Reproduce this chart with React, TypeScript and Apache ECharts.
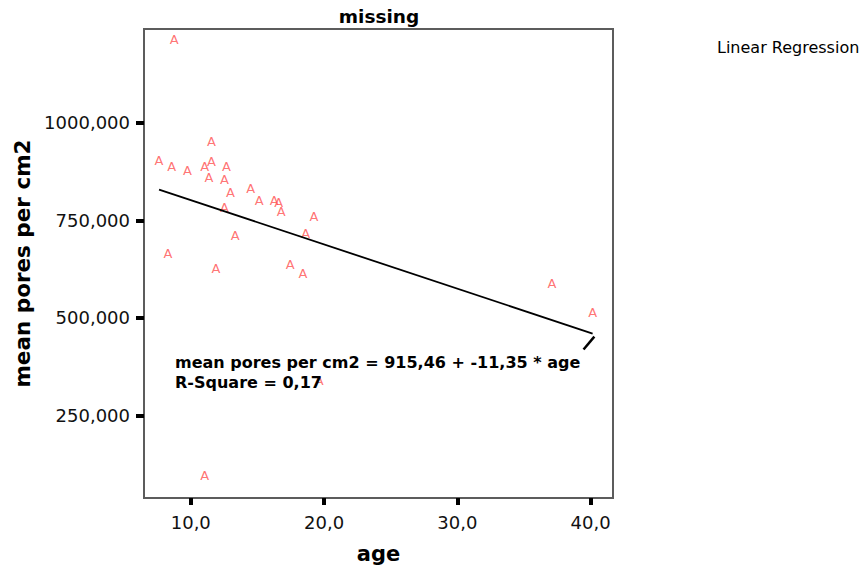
import React, { useEffect, useRef } from "react";
import * as echarts from "echarts";

// age (x) and mean pores per cm2 (y) for each case
const ageValues = [
  8.75, 11.56, 7.62, 8.57, 9.75, 11.05, 11.56, 12.68, 11.37, 12.53, 12.98, 14.49,
  15.13, 16.26, 16.59, 16.78, 12.53, 19.24, 18.62, 13.33, 8.29, 11.88, 17.46, 18.41,
  37.1, 40.15, 19.64, 11.05,
];
const poresValues = [
  1214, 953, 904, 889, 878, 889, 900, 889, 859, 855, 822, 833,
  802, 801, 795, 773, 784, 759, 716, 711, 664, 627, 637, 615,
  587, 515, 340, 96,
];

// linear regression fit
const intercept = 915.46;
const slope = -11.35;
const rSquare = 0.17;

// small rendering artefact at the end of the fit line
const hookAge = [40.28, 39.47];
const hookPores = [452, 419];

const xTicks = [10, 20, 30, 40];
const yTicks = [250, 500, 750, 1000];
const xRange = [6.49, 41.68];
const yRange = [38, 1241];

const FONT = "DejaVu Sans";

export default function App() {
  const ref = useRef<HTMLDivElement>(null);

  useEffect(() => {
    if (!ref.current) return;
    const chart = echarts.init(ref.current, undefined, { renderer: "svg" });

    const points = ageValues.map((a, i) => [a, poresValues[i]]);
    const xMin = Math.min(...ageValues);
    const xMax = Math.max(...ageValues);
    const fit = [
      [xMin, intercept + slope * xMin],
      [xMax, intercept + slope * xMax],
    ];
    const hook = hookAge.map((a, i) => [a, hookPores[i]]);

    const fmtNum = (v: number, d: number) => v.toFixed(d).replace(".", ",");

    chart.setOption({
      animation: false,
      textStyle: { fontFamily: FONT },
      grid: {
        left: 144,
        top: 29,
        width: 469,
        height: 469,
        show: true,
        borderColor: "#5c5c5c",
        borderWidth: 2,
        backgroundColor: "#ffffff",
      },
      xAxis: {
        type: "value",
        min: xRange[0],
        max: xRange[1],
        name: "age",
        nameLocation: "middle",
        nameGap: 45,
        nameTextStyle: { fontFamily: FONT, fontSize: 21, fontWeight: "bold", color: "#000" },
        axisLine: { show: false },
        splitLine: { show: false },
        axisTick: {
          show: true,
          customValues: xTicks,
          length: 7,
          lineStyle: { color: "#000", width: 4 },
        },
        axisLabel: {
          customValues: xTicks,
          margin: 15,
          fontFamily: FONT,
          fontSize: 18,
          color: "#111",
          formatter: (v: number) => fmtNum(v, 1),
        },
      },
      yAxis: {
        type: "value",
        min: yRange[0],
        max: yRange[1],
        name: "mean pores per cm2",
        nameLocation: "middle",
        nameGap: 109,
        nameTextStyle: { fontFamily: FONT, fontSize: 21.5, fontWeight: "bold", color: "#000" },
        axisLine: { show: false },
        splitLine: { show: false },
        axisTick: {
          show: true,
          customValues: yTicks,
          length: 8,
          lineStyle: { color: "#000", width: 4 },
        },
        axisLabel: {
          customValues: yTicks,
          margin: 14,
          fontFamily: FONT,
          fontSize: 18,
          color: "#111",
          formatter: (v: number) => fmtNum(v, 3),
        },
      },
      series: [
        {
          type: "line",
          data: fit,
          symbol: "none",
          lineStyle: { color: "#000", width: 1.8 },
          z: 3,
        },
        {
          type: "line",
          data: hook,
          symbol: "none",
          lineStyle: { color: "#000", width: 2.5 },
          z: 3,
        },
        {
          type: "scatter",
          data: points,
          symbolSize: 1,
          itemStyle: { color: "rgba(0,0,0,0)" },
          label: {
            show: true,
            position: "inside",
            formatter: "A",
            fontFamily: FONT,
            fontSize: 13,
            color: "#ff5050",
          },
          z: 2,
        },
      ],
      graphic: [
        {
          type: "text",
          x: 379,
          y: 16,
          style: {
            text: "missing",
            fontFamily: FONT,
            fontSize: 18.5,
            fontWeight: "bold",
            fill: "#000",
            align: "center",
            verticalAlign: "middle",
          },
        },
        {
          type: "text",
          x: 717,
          y: 47,
          style: {
            text: "Linear Regression",
            fontFamily: FONT,
            fontSize: 16,
            fill: "#000",
            align: "left",
            verticalAlign: "middle",
          },
        },
        {
          type: "text",
          x: 175,
          y: 362,
          z: 10,
          style: {
            text: `mean pores per cm2 = ${fmtNum(intercept, 2)} + ${fmtNum(slope, 2)} * age`,
            fontFamily: FONT,
            fontSize: 16,
            fontWeight: "bold",
            fill: "#000",
            align: "left",
            verticalAlign: "middle",
          },
        },
        {
          type: "text",
          x: 175,
          y: 382,
          z: 10,
          style: {
            text: `R-Square = ${fmtNum(rSquare, 2)}`,
            fontFamily: FONT,
            fontSize: 16,
            fontWeight: "bold",
            fill: "#000",
            align: "left",
            verticalAlign: "middle",
          },
        },
      ],
    });

    return () => chart.dispose();
  }, []);

  return (
    <div
      ref={ref}
      style={{ position: "fixed", left: 0, top: 0, width: 868, height: 575, background: "#fff" }}
    />
  );
}
